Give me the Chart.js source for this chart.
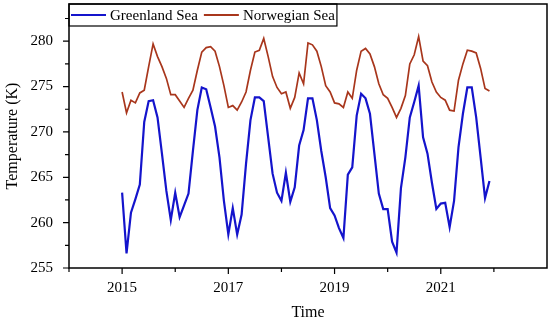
<!DOCTYPE html>
<html>
<head>
<meta charset="utf-8">
<script src="https://cdn.jsdelivr.net/npm/chart.js@4.4.0/dist/chart.umd.min.js"></script>
<style>
    html, body { margin: 0; padding: 0; background: #fff; }
    #wrap { width: 550px; height: 324px; }
</style>
</head>
<body>
<div id="wrap"><canvas id="sea-chart"></canvas></div>
<script>
// monthly values, Jan 2015 .. Dec 2021
const startYear = 2015;
const greenland = [
    263.3, 256.6, 261.1, 262.6, 264.2, 271.1, 273.4, 273.5, 271.6, 267.6, 263.5, 260.3,
    263.3, 260.6, 261.9, 263.2, 267.9, 272.4, 274.9, 274.7, 272.7, 270.6, 267.2, 262.4,
    258.7, 261.6, 258.7, 260.9, 266.5, 271.3, 273.8, 273.8, 273.4, 269.4, 265.4, 263.3,
    262.4, 265.5, 262.3, 263.9, 268.5, 270.2, 273.7, 273.7, 271.3, 267.9, 265.0, 261.6,
    260.8, 259.4, 258.3, 265.3, 266.1, 271.8, 274.2, 273.7, 272.0, 267.6, 263.2, 261.5,
    261.5, 257.9, 256.7, 263.8, 267.2, 271.6, 273.3, 275.1, 269.4, 267.6, 264.4, 261.5,
    262.1, 262.2, 259.5, 262.4, 268.3, 272.0, 274.9, 274.9, 271.6, 267.2, 262.7, 264.6
];
const norwegian = [
    274.4, 272.1, 273.5, 273.2, 274.3, 274.6, 277.2, 279.7, 278.3, 277.2, 275.9, 274.1,
    274.1, 273.4, 272.7, 273.7, 274.6, 276.8, 278.8, 279.3, 279.4, 278.9, 277.2, 275.1,
    272.7, 272.9, 272.4, 273.3, 274.4, 276.8, 278.8, 279.0, 280.3, 278.3, 276.1, 274.9,
    274.2, 274.4, 272.6, 273.8, 276.5, 275.3, 279.8, 279.6, 278.9, 277.2, 275.1, 274.4,
    273.2, 273.1, 272.7, 274.4, 273.7, 276.8, 278.9, 279.2, 278.6, 277.2, 275.3, 274.1,
    273.7, 272.7, 271.6, 272.6, 274.0, 277.5, 278.5, 280.5, 277.8, 277.3, 275.5, 274.4,
    273.8, 273.5, 272.4, 272.3, 275.7, 277.5, 279.0, 278.9, 278.7, 277.0, 274.8, 274.5
];
const seriesNames = ["Greenland Sea", "Norwegian Sea"];
const yearTicks = [2015, 2017, 2019, 2021];
const yearMinor = [2014, 2016, 2018, 2020, 2022];
const tempTicks = [255, 260, 265, 270, 275, 280];
const tempMinor = [257.5, 262.5, 267.5, 272.5, 277.5, 282.5];

const toPoints = arr => arr.map((v, i) => ({ x: startYear + i / 12, y: v }));

const serif = "'Liberation Serif', 'Times New Roman', serif";

////
///////////////////// frame, ticks and inside legend /////////////////////
////

const framePlugin = {
    id: 'frame',
    afterDraw(chart) {
        const ctx = chart.ctx;
        const a = chart.chartArea;
        const xs = chart.scales.x;
        const ys = chart.scales.y;
        ctx.save();
        ctx.strokeStyle = '#000';
        ctx.lineWidth = 1.5;
        ctx.strokeRect(a.left, a.top, a.right - a.left, a.bottom - a.top);

        ctx.lineWidth = 1.2;
        ctx.beginPath();
        yearTicks.forEach(v => {
            const px = xs.getPixelForValue(v);
            ctx.moveTo(px, a.bottom); ctx.lineTo(px, a.bottom + 6);
        });
        yearMinor.forEach(v => {
            const px = xs.getPixelForValue(v);
            ctx.moveTo(px, a.bottom); ctx.lineTo(px, a.bottom + 4);
        });
        tempTicks.forEach(v => {
            const py = ys.getPixelForValue(v);
            ctx.moveTo(a.left, py); ctx.lineTo(a.left - 6, py);
        });
        tempMinor.forEach(v => {
            const py = ys.getPixelForValue(v);
            if (py < a.top) return;
            ctx.moveTo(a.left, py); ctx.lineTo(a.left - 4, py);
        });
        ctx.stroke();

        // legend box in the upper left corner
        ctx.font = '15px ' + serif;
        ctx.textBaseline = 'middle';
        let x = a.left + 2;
        const y = a.top + 11;
        chart.data.datasets.forEach(ds => {
            ctx.strokeStyle = ds.borderColor;
            ctx.lineWidth = 2;
            ctx.beginPath();
            ctx.moveTo(x, y); ctx.lineTo(x + 35, y);
            ctx.stroke();
            x += 39;
            ctx.fillStyle = '#000';
            ctx.fillText(ds.label, x, y + 1);
            x += ctx.measureText(ds.label).width + 6;
        });
        ctx.strokeStyle = '#000';
        ctx.lineWidth = 1.2;
        ctx.strokeRect(a.left, a.top, x - a.left - 4, 22);
        ctx.restore();
    }
};

const seaCanvas = document.getElementById("sea-chart");

let seaChart = new Chart(seaCanvas, {
    type: 'line',
    data: {
        datasets: [{
            label: seriesNames[0],
            data: toPoints(greenland),
            borderColor: '#1414cc',
            borderWidth: 2.2,
            pointRadius: 0,
            tension: 0
        }, {
            label: seriesNames[1],
            data: toPoints(norwegian),
            borderColor: '#a8361c',
            borderWidth: 1.7,
            pointRadius: 0,
            tension: 0
        }]
    },
    options: {
        responsive: true,
        maintainAspectRatio: false,
        animation: false,
        layout: {
            padding: { top: 4, right: 3, left: 0, bottom: 0 }
        },
        scales: {
            x: {
                type: 'linear',
                min: 2014,
                max: 2023,
                grid: { display: false },
                border: { display: false },
                afterBuildTicks: scale => {
                    scale.ticks = yearTicks.map(v => ({ value: v }));
                },
                afterFit: scale => {
                    scale.height = 56;
                    scale.paddingLeft = 0;
                    scale.paddingRight = 0;
                },
                ticks: {
                    padding: 3,
                    color: '#000',
                    font: { family: serif, size: 15 },
                    callback: v => String(v)
                },
                title: {
                    display: true,
                    text: 'Time',
                    color: '#000',
                    font: { family: serif, size: 16 },
                    padding: { top: 2, bottom: 2 }
                }
            },
            y: {
                min: 255,
                max: 284.1,
                grid: { display: false },
                border: { display: false },
                afterBuildTicks: scale => {
                    scale.ticks = tempTicks.map(v => ({ value: v }));
                },
                afterFit: scale => {
                    scale.width = 69;
                    scale.paddingTop = 0;
                    scale.paddingBottom = 0;
                },
                ticks: {
                    padding: 8,
                    color: '#000',
                    font: { family: serif, size: 15 }
                },
                title: {
                    display: true,
                    text: 'Temperature (K)',
                    color: '#000',
                    font: { family: serif, size: 16 },
                    padding: { top: 3, bottom: 0 }
                }
            }
        },
        plugins: {
            legend: { display: false },
            tooltip: { enabled: false }
        }
    },
    plugins: [framePlugin]
});
</script>
</body>
</html>
